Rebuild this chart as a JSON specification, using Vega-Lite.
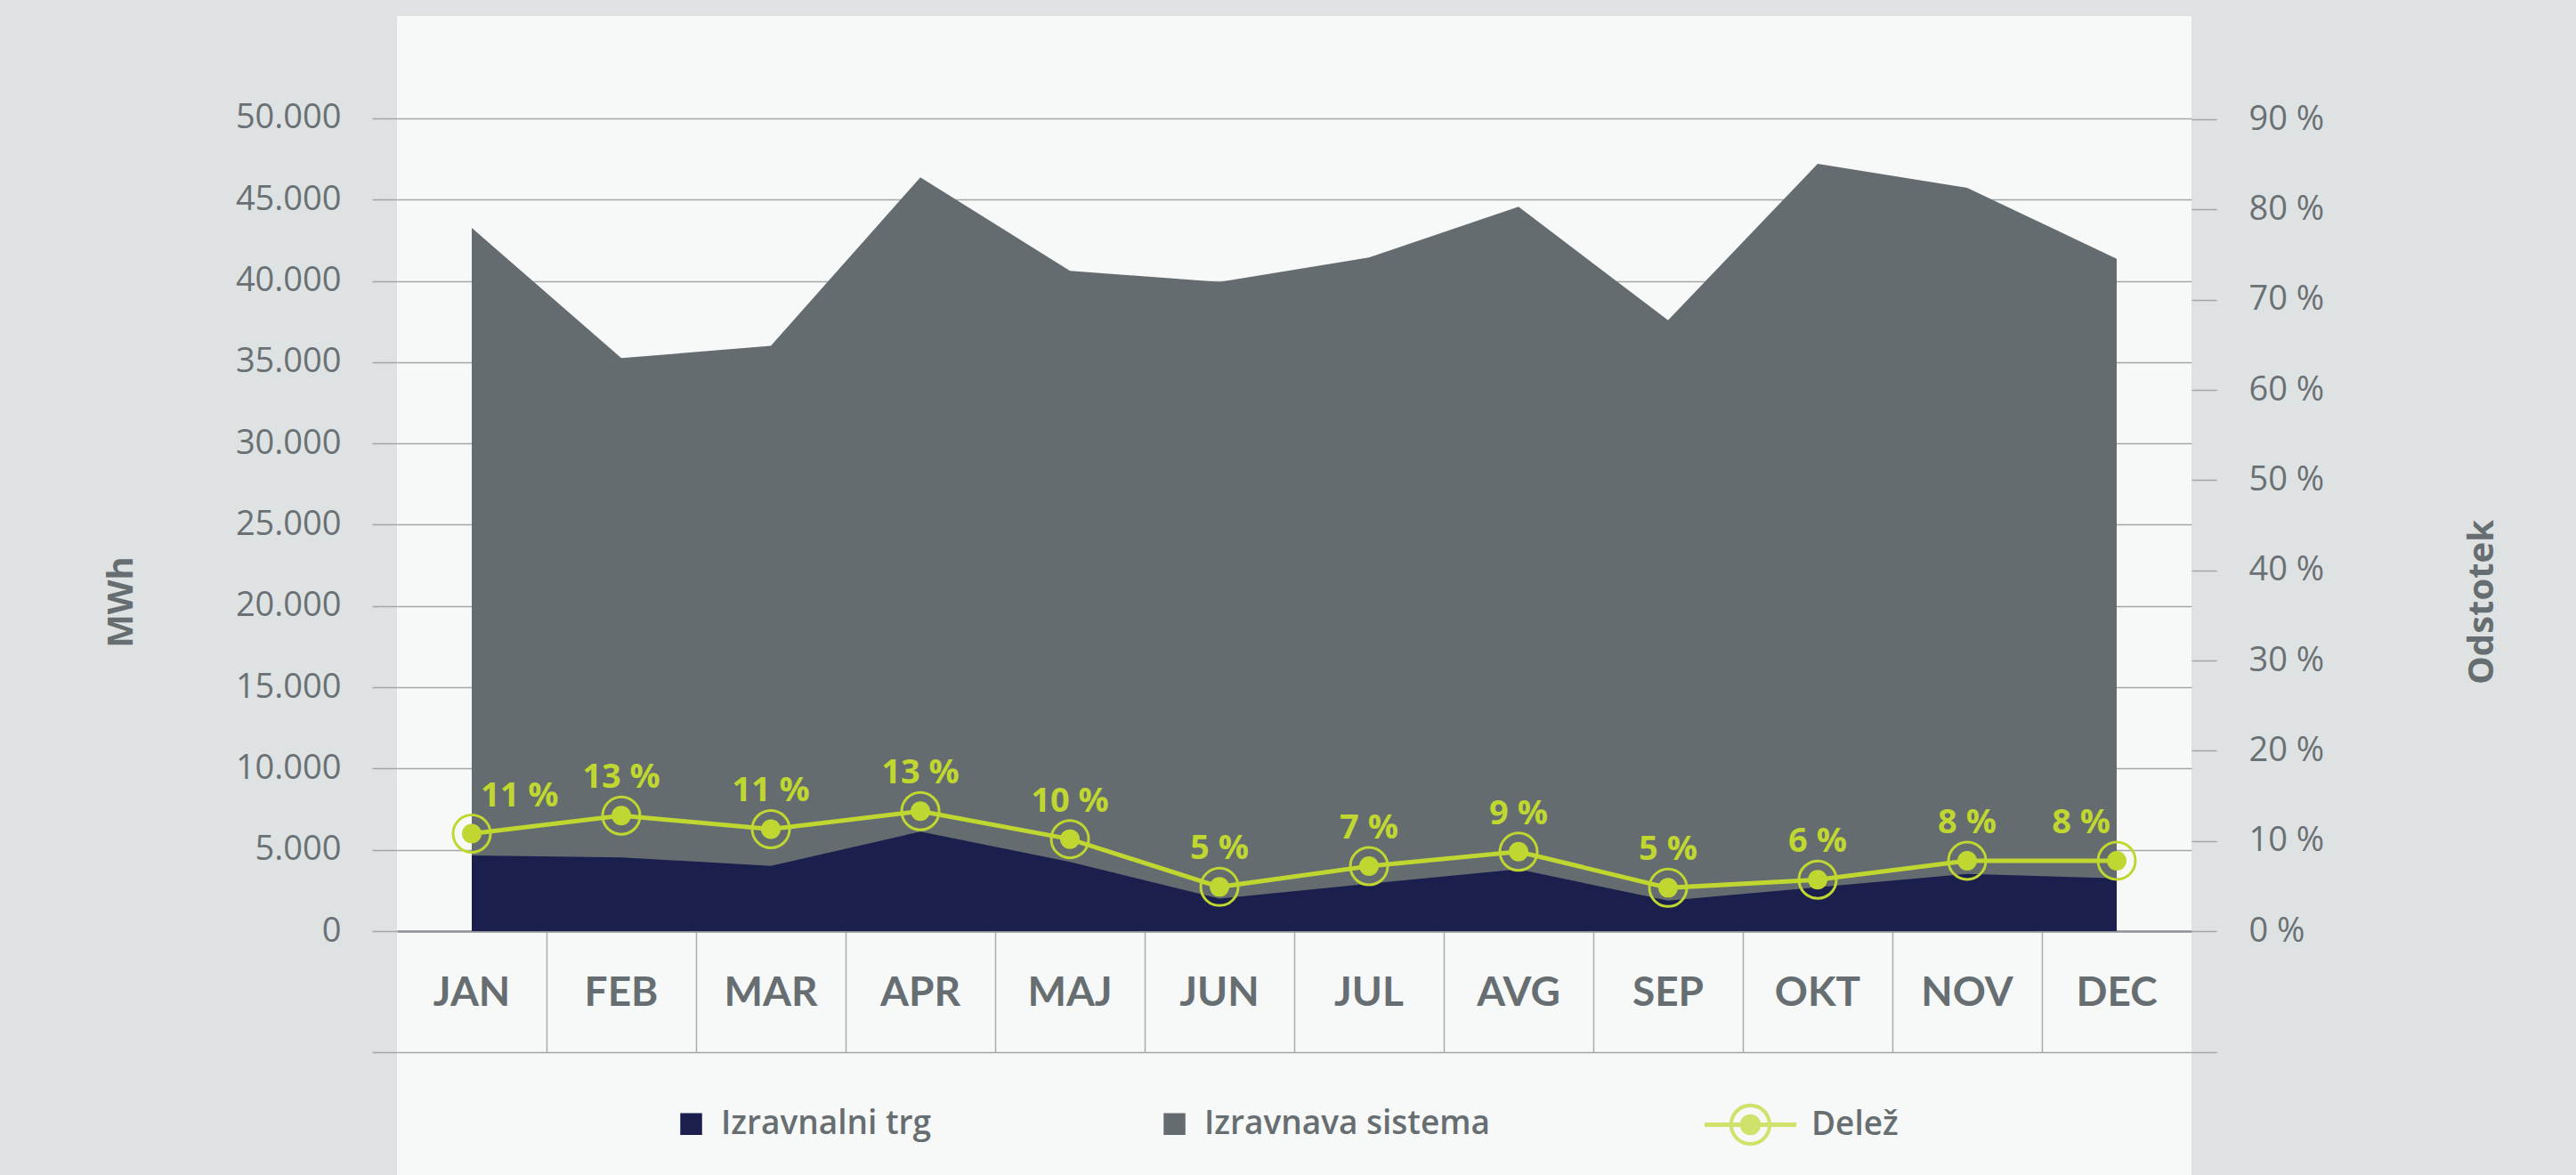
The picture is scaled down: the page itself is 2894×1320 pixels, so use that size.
{
  "$schema": "https://vega.github.io/schema/vega-lite/v6.json",
  "autosize": {"type": "none"},
  "width": 2016,
  "height": 1302,
  "padding": {"left": 446, "top": 18, "right": 432, "bottom": 0},
  "background": "#dfe2e3",
  "view": {"fill": "#f7f9f9", "stroke": null},
  "config": {
    "locale": {"number": {"decimal": ",", "thousands": ".", "grouping": [3], "currency": ["", " €"]}},
    "axis": {"labelFont": "Open Sans", "titleFont": "Open Sans", "labelColor": "#6a7174", "titleColor": "#676e71"},
    "legend": {"labelFont": "Open Sans", "labelColor": "#676e71"}
  },
  "datasets": {
    "energija": [
      {"mesec": "JAN", "serija": "Izravnava sistema", "mwh": 43260},
      {"mesec": "FEB", "serija": "Izravnava sistema", "mwh": 35250},
      {"mesec": "MAR", "serija": "Izravnava sistema", "mwh": 36000},
      {"mesec": "APR", "serija": "Izravnava sistema", "mwh": 46370},
      {"mesec": "MAJ", "serija": "Izravnava sistema", "mwh": 40620},
      {"mesec": "JUN", "serija": "Izravnava sistema", "mwh": 39940},
      {"mesec": "JUL", "serija": "Izravnava sistema", "mwh": 41440},
      {"mesec": "AVG", "serija": "Izravnava sistema", "mwh": 44560},
      {"mesec": "SEP", "serija": "Izravnava sistema", "mwh": 37580},
      {"mesec": "OKT", "serija": "Izravnava sistema", "mwh": 47200},
      {"mesec": "NOV", "serija": "Izravnava sistema", "mwh": 45730},
      {"mesec": "DEC", "serija": "Izravnava sistema", "mwh": 41360},
      {"mesec": "JAN", "serija": "Izravnalni trg", "mwh": 4655},
      {"mesec": "FEB", "serija": "Izravnalni trg", "mwh": 4530},
      {"mesec": "MAR", "serija": "Izravnalni trg", "mwh": 4015},
      {"mesec": "APR", "serija": "Izravnalni trg", "mwh": 6120},
      {"mesec": "MAJ", "serija": "Izravnalni trg", "mwh": 4255},
      {"mesec": "JUN", "serija": "Izravnalni trg", "mwh": 2000},
      {"mesec": "JUL", "serija": "Izravnalni trg", "mwh": 2920},
      {"mesec": "AVG", "serija": "Izravnalni trg", "mwh": 3800},
      {"mesec": "SEP", "serija": "Izravnalni trg", "mwh": 1880},
      {"mesec": "OKT", "serija": "Izravnalni trg", "mwh": 2700},
      {"mesec": "NOV", "serija": "Izravnalni trg", "mwh": 3520},
      {"mesec": "DEC", "serija": "Izravnalni trg", "mwh": 3250}
    ],
    "delez": [
      {"mesec": "JAN", "serija": "Delež", "delez": 10.8, "oznaka": "11 %"},
      {"mesec": "FEB", "serija": "Delež", "delez": 12.8, "oznaka": "13 %"},
      {"mesec": "MAR", "serija": "Delež", "delez": 11.3, "oznaka": "11 %"},
      {"mesec": "APR", "serija": "Delež", "delez": 13.3, "oznaka": "13 %"},
      {"mesec": "MAJ", "serija": "Delež", "delez": 10.2, "oznaka": "10 %"},
      {"mesec": "JUN", "serija": "Delež", "delez": 4.9, "oznaka": "5 %"},
      {"mesec": "JUL", "serija": "Delež", "delez": 7.2, "oznaka": "7 %"},
      {"mesec": "AVG", "serija": "Delež", "delez": 8.8, "oznaka": "9 %"},
      {"mesec": "SEP", "serija": "Delež", "delez": 4.8, "oznaka": "5 %"},
      {"mesec": "OKT", "serija": "Delež", "delez": 5.7, "oznaka": "6 %"},
      {"mesec": "NOV", "serija": "Delež", "delez": 7.8, "oznaka": "8 %"},
      {"mesec": "DEC", "serija": "Delež", "delez": 7.8, "oznaka": "8 %"}
    ]
  },
  "layer": [
    {
      "data": {"name": "energija"},
      "encoding": {
        "x": {
          "field": "mesec", "type": "nominal", "bandPosition": 0.5,
          "scale": {"type": "band", "domain": ["JAN","FEB","MAR","APR","MAJ","JUN","JUL","AVG","SEP","OKT","NOV","DEC"], "paddingInner": 0, "paddingOuter": 0},
          "axis": {
            "orient": "bottom", "offset": -274, "title": null, "labelAngle": 0,
            "domain": true, "domainColor": "#8e9396", "domainWidth": 2.5,
            "ticks": true, "bandPosition": 1, "tickExtra": false, "tickSize": 136, "tickColor": "#a9adaf", "tickWidth": 1.5,
            "tickOpacity": {"condition": {"test": "datum.value === 'DEC'", "value": 0}, "value": 1},
            "labelFont": "Lato", "labelFontWeight": "bold", "labelFontSize": 46, "labelColor": "#676e71",
            "labelPadding": -67, "labelBaseline": "middle", "grid": false
          }
        },
        "y": {
          "field": "mwh", "type": "quantitative",
          "scale": {"domain": [-15004, 56293], "nice": false, "zero": false},
          "axis": {
            "orient": "left",
            "values": [-7447, 0, 5000, 10000, 15000, 20000, 25000, 30000, 35000, 40000, 45000, 50000],
            "format": ",d", "labelExpr": "datum.value < 0 ? '' : datum.label",
            "grid": true, "gridColor": "#a3a6a8", "gridWidth": 1.5,
            "domain": false, "tickSize": 28, "tickColor": "#a3a6a8", "tickWidth": 1.5,
            "labelFontSize": 38, "labelPadding": 35,
            "title": "MWh", "titleFontWeight": "bold", "titleFontSize": 40,
            "titleAngle": 270, "titleX": -298, "titleY": 658, "titleAlign": "center", "titleBaseline": "alphabetic"
          }
        },
        "y2": {"datum": 0},
        "color": {
          "field": "serija", "type": "nominal",
          "scale": {"domain": ["Izravnalni trg", "Izravnava sistema"], "range": ["#1b1f4d", "#656c6f"]},
          "legend": {
            "orient": "none", "legendX": 312, "legendY": 1226, "direction": "horizontal", "title": null,
            "symbolType": "square", "symbolSize": 600, "symbolStrokeWidth": 0,
            "labelFontWeight": 600, "labelFontSize": 37, "labelOffset": 15, "labelLimit": 600,
            "columnPadding": 254, "padding": 0
          }
        }
      },
      "layer": [
        {"transform": [{"filter": "datum.serija === 'Izravnava sistema'"}], "mark": {"type": "area", "opacity": 1}},
        {"transform": [{"filter": "datum.serija === 'Izravnalni trg'"}], "mark": {"type": "area", "opacity": 1}}
      ]
    },
    {
      "data": {"name": "delez"},
      "encoding": {
        "x": {"field": "mesec", "type": "nominal", "bandPosition": 0.5},
        "y": {
          "field": "delez", "type": "quantitative",
          "scale": {"domain": [-27.04, 101.45], "nice": false, "zero": false},
          "axis": {
            "orient": "right",
            "values": [-13.42, 0, 10, 20, 30, 40, 50, 60, 70, 80, 90],
            "labelExpr": "datum.value < 0 ? '' : datum.value + ' %'",
            "grid": false, "domain": false, "tickSize": 28, "tickColor": "#a3a6a8", "tickWidth": 1.5,
            "labelFontSize": 38, "labelPadding": 36,
            "title": "Odstotek", "titleFontWeight": "bold", "titleFontSize": 40,
            "titleAngle": 270, "titleX": 338, "titleY": 658, "titleAlign": "center", "titleBaseline": "alphabetic"
          }
        }
      },
      "layer": [
        {"mark": {"type": "line", "color": "#bfd730", "strokeWidth": 5}},
        {"mark": {"type": "point", "filled": false, "stroke": "#bfd730", "strokeWidth": 3, "size": 1764, "opacity": 1}},
        {"mark": {"type": "circle", "color": "#bfd730", "size": 484, "opacity": 1}},
        {
          "transform": [{"filter": "datum.mesec !== 'JAN' && datum.mesec !== 'DEC'"}],
          "mark": {"type": "text", "font": "Open Sans", "fontWeight": "bold", "fontSize": 38, "color": "#bfd730", "baseline": "alphabetic", "align": "center", "dy": -31},
          "encoding": {"text": {"field": "oznaka"}}
        },
        {
          "transform": [{"filter": "datum.mesec === 'JAN'"}],
          "mark": {"type": "text", "font": "Open Sans", "fontWeight": "bold", "fontSize": 38, "color": "#bfd730", "baseline": "alphabetic", "align": "left", "dx": 10, "dy": -31},
          "encoding": {"text": {"field": "oznaka"}}
        },
        {
          "transform": [{"filter": "datum.mesec === 'DEC'"}],
          "mark": {"type": "text", "font": "Open Sans", "fontWeight": "bold", "fontSize": 38, "color": "#bfd730", "baseline": "alphabetic", "align": "right", "dx": -7, "dy": -31},
          "encoding": {"text": {"field": "oznaka"}}
        },
        {
          "transform": [{"filter": "false"}],
          "mark": {"type": "point", "filled": true, "color": "#bfd730"},
          "encoding": {
            "shape": {
              "field": "serija", "type": "nominal",
              "scale": {"domain": ["Delež"], "range": ["M-1,-0.05H1V0.05H-1Z M0,-0.46A0.46,0.46 0 1,1 0,0.46A0.46,0.46 0 1,1 0,-0.46Z M0,-0.38A0.38,0.38 0 1,0 0,0.38A0.38,0.38 0 1,0 0,-0.38Z M0,-0.23A0.23,0.23 0 1,1 0,0.23A0.23,0.23 0 1,1 0,-0.23Z"]},
              "legend": {
                "orient": "none", "legendX": 1469, "legendY": 1194, "title": null,
                "symbolSize": 10609, "symbolFillColor": "#bfd730", "symbolStrokeWidth": 0,
                "labelFontWeight": 600, "labelFontSize": 37, "labelOffset": 17, "labelLimit": 300, "padding": 0
              }
            }
          }
        }
      ]
    }
  ],
  "resolve": {"scale": {"y": "independent"}}
}
